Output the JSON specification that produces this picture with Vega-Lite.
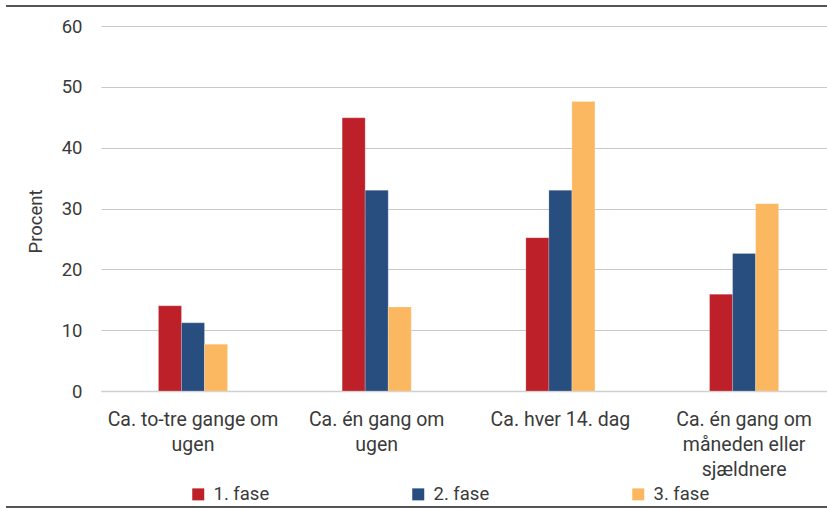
{
  "$schema": "https://vega.github.io/schema/vega-lite/v6.json",
  "autosize": {"type": "none"},
  "width": 726,
  "height": 365,
  "padding": {"left": 101, "top": 26, "right": 0, "bottom": 117},
  "background": "white",
  "config": {
    "font": "Roboto",
    "view": {"stroke": null},
    "axis": {"labelColor": "#3a3a3a", "titleColor": "#3a3a3a", "labelFont": "Roboto", "titleFont": "Roboto"},
    "legend": {"labelColor": "#3a3a3a", "labelFont": "Roboto"}
  },
  "data": {
    "values": [
      {"kategori": "Ca. to-tre gange om ugen", "fase": "1. fase", "procent": 14.0},
      {"kategori": "Ca. to-tre gange om ugen", "fase": "2. fase", "procent": 11.2},
      {"kategori": "Ca. to-tre gange om ugen", "fase": "3. fase", "procent": 7.7},
      {"kategori": "Ca. én gang om ugen", "fase": "1. fase", "procent": 44.9},
      {"kategori": "Ca. én gang om ugen", "fase": "2. fase", "procent": 33.0},
      {"kategori": "Ca. én gang om ugen", "fase": "3. fase", "procent": 13.8},
      {"kategori": "Ca. hver 14. dag", "fase": "1. fase", "procent": 25.2},
      {"kategori": "Ca. hver 14. dag", "fase": "2. fase", "procent": 33.0},
      {"kategori": "Ca. hver 14. dag", "fase": "3. fase", "procent": 47.6},
      {"kategori": "Ca. én gang om måneden eller sjældnere", "fase": "1. fase", "procent": 15.9},
      {"kategori": "Ca. én gang om måneden eller sjældnere", "fase": "2. fase", "procent": 22.6},
      {"kategori": "Ca. én gang om måneden eller sjældnere", "fase": "3. fase", "procent": 30.8}
    ]
  },
  "layer": [
    {
      "mark": {"type": "bar", "stroke": "#ffffff", "strokeOpacity": 0.25, "strokeWidth": 0.8},
      "encoding": {
        "x": {
          "field": "kategori",
          "type": "nominal",
          "sort": null,
          "scale": {"paddingInner": 0.624, "paddingOuter": 0.288, "align": 0.543},
          "axis": {
            "title": null,
            "labelAngle": 0,
            "labelFontSize": 19.5,
            "labelLineHeight": 25,
            "labelPadding": 19,
            "labelLimit": 300,
            "ticks": false,
            "domainColor": "#d0d0d0",
            "domainWidth": 1.5,
            "labelExpr": "datum.value == 'Ca. to-tre gange om ugen' ? ['Ca. to-tre gange om', 'ugen'] : datum.value == 'Ca. én gang om ugen' ? ['Ca. én gang om', 'ugen'] : datum.value == 'Ca. én gang om måneden eller sjældnere' ? ['Ca. én gang om', 'måneden eller', 'sjældnere'] : datum.value"
          }
        },
        "xOffset": {
          "field": "fase",
          "type": "nominal",
          "scale": {"paddingInner": 0, "paddingOuter": 0}
        },
        "y": {
          "field": "procent",
          "type": "quantitative",
          "scale": {"domain": [0, 60], "nice": false},
          "axis": {
            "title": "Procent",
            "titleFontSize": 18.5,
            "titleFontWeight": "normal",
            "titlePadding": 16,
            "titleY": 195,
            "values": [0, 10, 20, 30, 40, 50, 60],
            "labelFontSize": 18.5,
            "labelPadding": 19,
            "ticks": false,
            "domain": false,
            "grid": true,
            "gridColor": "#c8c8c8",
            "gridWidth": 1.2
          }
        },
        "color": {
          "field": "fase",
          "type": "nominal",
          "scale": {"domain": ["1. fase", "2. fase", "3. fase"], "range": ["#BE2029", "#284E80", "#FCB860"]},
          "legend": {
            "title": null,
            "orient": "none",
            "direction": "horizontal",
            "legendX": 88,
            "legendY": 459,
            "symbolType": "square",
            "symbolSize": 144,
            "symbolStrokeWidth": 0,
            "symbolOpacity": 1,
            "labelFontSize": 18.5,
            "labelOffset": 6,
            "columnPadding": 139,
            "padding": 0
          }
        }
      }
    },
    {
      "mark": {"type": "rule", "color": "#555555", "strokeWidth": 2.2},
      "encoding": {
        "x": {"datum": -0.13, "type": "quantitative", "scale": {"domain": [0, 1]}, "axis": null},
        "x2": {"datum": 1},
        "y": {"datum": 63.29, "type": "quantitative"}
      }
    },
    {
      "mark": {"type": "rule", "color": "#555555", "strokeWidth": 2.6},
      "encoding": {
        "x": {"datum": -0.13, "type": "quantitative", "scale": {"domain": [0, 1]}, "axis": null},
        "x2": {"datum": 1},
        "y": {"datum": -19.1, "type": "quantitative"}
      }
    }
  ],
  "resolve": {"scale": {"x": "independent"}, "axis": {"x": "independent"}}
}
